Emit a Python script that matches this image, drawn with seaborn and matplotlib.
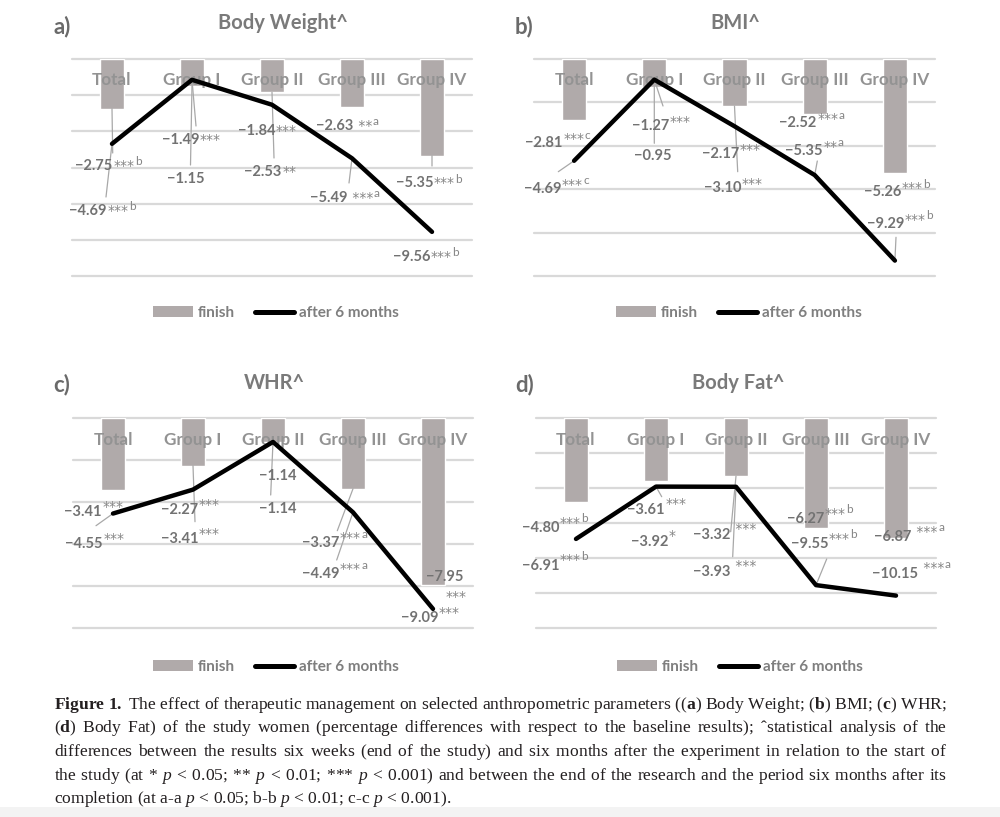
import numpy as np
import pandas as pd
import matplotlib
matplotlib.use("Agg")
import matplotlib.pyplot as plt
import seaborn as sns
from matplotlib.patches import Patch, Rectangle
from matplotlib.lines import Line2D

# ---------------- data ----------------
categories = ["Total", "Group I", "Group II", "Group III", "Group IV"]
series_names = ["finish", "after 6 months"]

bw_finish = [-2.75, -1.49, -1.84, -2.63, -5.35]
bw_after = [-4.69, -1.15, -2.53, -5.49, -9.56]
bw_finish_sig = ["***b", "***", "***", " **a", "***b"]
bw_after_sig = ["***b", "", "**", " ***a", "***b"]

bmi_finish = [-2.81, -1.27, -2.17, -2.52, -5.26]
bmi_after = [-4.69, -0.95, -3.10, -5.35, -9.29]
bmi_finish_sig = ["***c", "***", "***", "***a", "***b"]
bmi_after_sig = ["***c", "", "***", "**a", "***b"]

whr_finish = [-3.41, -2.27, -1.14, -3.37, -7.95]
whr_after = [-4.55, -3.41, -1.14, -4.49, -9.09]
whr_finish_sig = ["***", "***", "", "***a", "***"]
whr_after_sig = ["***", "***", "", "***a", "***"]

fat_finish = [-4.80, -3.61, -3.32, -6.27, -6.87]
fat_after = [-6.91, -3.92, -3.93, -9.55, -10.15]
fat_finish_sig = ["***b", "***", " ***", "***b", " ***a"]
fat_after_sig = ["***b", "*", " ***", "***b", " ***a"]

panel_letters = ["a)", "b)", "c)", "d)"]
panel_titles = ["Body Weight^", "BMI^", "WHR^", "Body Fat^"]
y_ranges = [(-12, 0), (-10, 0), (-10, 0), (-12, 0)]

caption_lines = [
    r"$\mathbf{Figure}$ $\mathbf{1.}$ The effect of therapeutic management on selected anthropometric parameters (($\mathbf{a}$) Body Weight; ($\mathbf{b}$) BMI; ($\mathbf{c}$) WHR;",
    r"($\mathbf{d}$) Body Fat) of the study women (percentage differences with respect to the baseline results); ˆstatistical analysis of the",
    "differences between the results six weeks (end of the study) and six months after the experiment in relation to the start of",
    r"the study (at * $p$ < 0.05; ** $p$ < 0.01; *** $p$ < 0.001) and between the end of the research and the period six months after its",
    r"completion (at a-a $p$ < 0.05; b-b $p$ < 0.01; c-c $p$ < 0.001).",
]

# ---------------- layout (figure pixels) ----------------
W, H = 1000, 817
layout = [
    dict(rect=(72, 59, 472, 276), title_xy=(283, 23), letter_xy=(53, 27), cat_y=80,
         legend_xy=(276, 313), raise_=0.0,
         lab_f=[(112.7, 165.7), (199.3, 140), (275.3, 131), (353.3, 126), (433.3, 183.3)],
         lab_a=[(106.7, 210.7), (205, 179.3), (281.7, 171.7), (347.3, 197.7), (430, 256.7)],
         leaders=[("f", 0, 112.7, 153), ("a", 0, 106, 197), ("f", 1, 190.5, 165),
                  ("a", 1, 196, 126), ("f", 2, 274, 158), ("a", 3, 349, 183), ("f", 4, 432, 166)]),
    dict(rect=(534, 59, 935, 276), title_xy=(735, 23), letter_xy=(515, 27), cat_y=80,
         legend_xy=(739, 313), raise_=3.0,
         lab_f=[(562.7, 143.3), (669.3, 126), (739.3, 154.3), (816.7, 123.3), (901, 192.3)],
         lab_a=[(561, 189), (671.7, 156), (741, 187.7), (822.7, 150.7), (904.3, 224)],
         leaders=[("a", 0, 558.3, 171.7), ("f", 1, 654.3, 143.3), ("a", 1, 663, 106),
                  ("f", 2, 737.7, 171.7), ("a", 3, 817.3, 161), ("a", 4, 896, 237.3)]),
    dict(rect=(73, 418, 473, 628), title_xy=(274, 383), letter_xy=(53, 385), cat_y=440,
         legend_xy=(276, 667), raise_=3.5,
         lab_f=[(101.7, 512.3), (198.3, 510), (296.7, 476), (339.3, 543.3), (463.3, 577.3)],
         lab_a=[(102.7, 544.3), (198.3, 539), (296.7, 509), (339.3, 574.3), (438.3, 618.3)],
         leaders=[("a", 0, 96, 525.7), ("f", 1, 195, 521.7), ("a", 2, 270.7, 495),
                  ("f", 3, 337.3, 530.7), ("a", 3, 336.7, 560)],
         below=[(4, 456, 597)]),
    dict(rect=(536, 418, 936, 628), title_xy=(738, 383), letter_xy=(515, 385), cat_y=440,
         legend_xy=(740, 667), raise_=4.0,
         lab_f=[(559.3, 528.3), (665, 510), (730.7, 535), (824, 519.3), (911.7, 537.3)],
         lab_a=[(559.3, 565.7), (668.3, 541.7), (730.7, 571.7), (828.3, 544.3), (918.3, 574)],
         leaders=[("a", 1, 661.7, 496.7), ("f", 2, 730.7, 531.7), ("a", 2, 732.7, 556.7),
                  ("a", 3, 826.7, 559)]),
]

BAR_C = "#b0aaaa"
GRID_C = "#d9d9d9"
NUM_C = "#727272"
STAR_C = "#858585"
CAT_C = "#939393"
TITLE_C = "#7a7a7a"
LETTER_C = "#6a6a6a"
LEAD_C = "#a8a8a8"
LEG_C = "#7f7f7f"

sns.set_theme(style="white")
plt.rcParams["font.family"] = ["Lato", "DejaVu Sans"]
plt.rcParams["mathtext.fontset"] = "custom"
plt.rcParams["mathtext.rm"] = "Liberation Serif"
plt.rcParams["mathtext.it"] = "Liberation Serif:italic"
plt.rcParams["mathtext.bf"] = "Liberation Serif:bold"

fig = plt.figure(figsize=(W / 100, H / 100), dpi=100)
fig.patch.set_facecolor("white")

datasets = [
    (bw_finish, bw_after, bw_finish_sig, bw_after_sig),
    (bmi_finish, bmi_after, bmi_finish_sig, bmi_after_sig),
    (whr_finish, whr_after, whr_finish_sig, whr_after_sig),
    (fat_finish, fat_after, fat_finish_sig, fat_after_sig),
]


def fmt(v):
    return f"{v:.2f}".replace("-", "\u2212")


def add_sig(ax, anchor, sg, raise_pt):
    stars = sg.rstrip("abc")
    letter = sg[len(stars):]
    st = ax.annotate(stars, xy=(1.0, 0.0), xycoords=anchor, xytext=(0.5, raise_pt),
                     textcoords="offset points", ha="left", va="bottom",
                     fontsize=10, family="DejaVu Sans", color=STAR_C, zorder=6,
                     annotation_clip=False)
    if letter:
        ax.annotate(letter, xy=(1.0, 0.4), xycoords=st, xytext=(0.3, 0),
                    textcoords="offset points", ha="left", va="bottom",
                    fontsize=8.5, color=STAR_C, zorder=6, annotation_clip=False)


for k, (fin, aft, fsig, asig) in enumerate(datasets):
    L = layout[k]
    x0, y0, x1, y1 = L["rect"]
    ax = fig.add_axes([x0 / W, 1 - y1 / H, (x1 - x0) / W, (y1 - y0) / H])
    df = pd.DataFrame({"category": categories, "finish": fin, "after": aft})
    sns.barplot(data=df, x="category", y="finish", color=BAR_C, saturation=1,
                width=0.3, ax=ax, zorder=2)
    sns.lineplot(x=np.arange(len(categories)), y=df["after"], color="black", lw=3.2,
                 ax=ax, sort=False, zorder=5, solid_joinstyle="round",
                 solid_capstyle="round")
    ymin, ymax = y_ranges[k]
    ax.set_xlim(-0.5, len(categories) - 0.5)
    ax.set_ylim(ymin, ymax)
    ax.set_yticks(np.arange(ymin, ymax + 1, 2))
    ax.set_xticks([])
    ax.tick_params(left=False, bottom=False, labelleft=False, labelbottom=False)
    ax.set_xlabel("")
    ax.set_ylabel("")
    for s in ax.spines.values():
        s.set_visible(False)
    ax.set_axisbelow(True)
    ax.yaxis.grid(True, color=GRID_C, lw=1.6)
    for gl in ax.get_ygridlines():
        gl.set_clip_on(False)
    ax.patch.set_alpha(0)

    inv = ax.transData.inverted()

    def p2d(px, py):
        return inv.transform((px, H - py))

    # category labels
    for i, c in enumerate(categories):
        _, cy = p2d(0, L["cat_y"])
        ax.text(i, cy, c, ha="center", va="center", fontsize=12.3, fontweight="bold",
                color=CAT_C, zorder=3)

    # data labels
    below = {b[0]: b for b in L.get("below", [])}
    for vals, sigs, pos, ser in ((fin, fsig, L["lab_f"], "f"), (aft, asig, L["lab_a"], "a")):
        for i, (v, sg, (px, py)) in enumerate(zip(vals, sigs, pos)):
            tx, ty = p2d(px, py)
            t = ax.text(tx, ty, fmt(v), ha="right", va="center", fontsize=10.5,
                        fontweight="bold", color=NUM_C, zorder=6, clip_on=False)
            if not sg:
                continue
            if ser == "f" and i in below:
                _, bx, by = below[i]
                sx, sy = p2d(bx, by)
                ax.text(sx, sy, sg, ha="center", va="center", fontsize=10,
                        family="DejaVu Sans", color=STAR_C, zorder=6)
            else:
                add_sig(ax, t, sg, L["raise_"])

    # leader lines
    for ser, i, ex, ey in L["leaders"]:
        sy = fin[i] if ser == "f" else aft[i]
        e = p2d(ex, ey)
        ax.annotate("", xy=(i, sy), xytext=tuple(e), xycoords="data",
                    arrowprops=dict(arrowstyle="-", color=LEAD_C, lw=0.9,
                                    shrinkA=0, shrinkB=0), zorder=2.5,
                    annotation_clip=False)

    # titles
    tx, ty = L["title_xy"]
    fig.text(tx / W, 1 - ty / H, panel_titles[k], ha="center", va="center",
             fontsize=14.5, fontweight="bold", color=TITLE_C)
    lx, ly = L["letter_xy"]
    fig.text(lx / W, 1 - ly / H, panel_letters[k], ha="left", va="center",
             fontsize=16, fontweight="bold", color=LETTER_C)

    # legend
    handles = [Patch(facecolor=BAR_C, edgecolor="none", label=series_names[0]),
               Line2D([], [], color="black", lw=3.6, solid_capstyle="round",
                      label=series_names[1])]
    gx, gy = L["legend_xy"]
    ax.legend(handles=handles, loc="center", bbox_to_anchor=(gx / W, 1 - gy / H),
              bbox_transform=fig.transFigure, ncol=2, frameon=False,
              prop=dict(size=11, weight="bold"),
              handlelength=2.6, handletextpad=0.3, columnspacing=1.3,
              labelcolor=LEG_C, borderaxespad=0, borderpad=0)

# ---------------- caption (justified lines) ----------------
renderer = fig.canvas.get_renderer()
cap_left, cap_right = 54, 947
cap_base = [709, 732.5, 756, 779.5, 803]
CAP_FS = 12.6
space_px = 0.25 * CAP_FS * 100 / 72


def join_words(words, g):
    return (r"$\hspace{%.4f}$" % g).join(words)


for li, line in enumerate(caption_lines):
    words = line.split(" ")
    t = fig.text(cap_left / W, 1 - cap_base[li] / H, "", ha="left", va="baseline",
                 fontsize=CAP_FS, family="Liberation Serif", color="#231f20")
    t.set_text(join_words(words, 0.0))
    w0 = t.get_window_extent(renderer).width
    t.set_text(join_words(words, 1.0))
    w1 = t.get_window_extent(renderer).width
    unit = (w1 - w0) / (len(words) - 1)
    if li < len(caption_lines) - 1:
        g = (cap_right - cap_left - w0) / (w1 - w0)
    else:
        g = space_px / unit
    t.set_text(join_words(words, g))

fig.patches.append(Rectangle((0, 0), 1, 10 / H, transform=fig.transFigure,
                             facecolor="#f3f3f3", edgecolor="none", zorder=-1))

fig.savefig("out.png", dpi=100, facecolor="white")
